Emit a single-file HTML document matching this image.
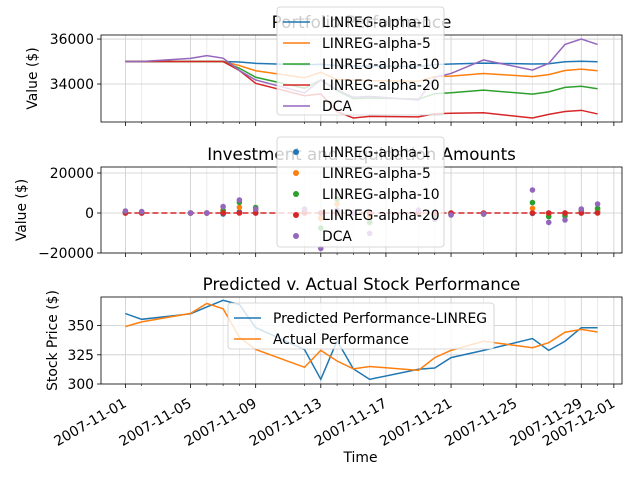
<!DOCTYPE html>
<html><head><meta charset="utf-8"><style>
body{margin:0;background:#fff}
svg{display:block;font-family:"DejaVu Sans","Liberation Sans",sans-serif}
</style></head><body>
<svg id="c" width="640" height="480" xmlns="http://www.w3.org/2000/svg"></svg>
<script>
const days=[0,1,4,5,6,7,8,11,12,13,14,15,18,19,20,22,25,26,27,28,29];
const tickDays=[0,4,8,12,16,20,24,28,30];
const tickLabels=["2007-11-01","2007-11-05","2007-11-09","2007-11-13","2007-11-17","2007-11-21","2007-11-25","2007-11-29","2007-12-01"];
const pfNames=["LINREG-alpha-1","LINREG-alpha-5","LINREG-alpha-10","LINREG-alpha-20","DCA"];
const colors=["#1f77b4","#ff7f0e","#2ca02c","#d62728","#9467bd"];
const pfA1=[35000,35000,35000,35000,35000,34980,34920,34850,34880,34820,34800,34800,34780,34860,34890,34930,34890,34900,34990,35010,34990];
const pfA5=[35000,35000,35000,35000,35000,34820,34590,34280,34520,34200,34180,34150,34120,34330,34350,34470,34330,34420,34600,34660,34590];
const pfA10=[35000,35000,35000,35000,35000,34700,34300,33810,34180,33700,33350,33380,33330,33570,33610,33730,33550,33650,33850,33900,33790];
const pfA20=[35000,35000,35000,35000,35000,34600,34030,33480,33560,32770,32490,32560,32540,32680,32700,32720,32490,32650,32780,32830,32670];
const pfDCA=[35000,35000,35140,35260,35150,34600,34180,33610,34180,33750,33410,33450,33290,34300,34470,35070,34620,34920,35760,36000,35760];
const invA1=[0,0,0,0,-500,500,0,300,0,0,0,0,0,0,0,-300,-200,0,0,0,500];
const invA5=[500,300,0,0,1500,2800,1500,1000,-2700,4500,0,-1500,0,-1000,-500,-500,2300,-500,-500,1000,1500];
const invA10=[300,200,0,0,1000,5300,2700,1500,-7500,7000,0,-4700,500,-1500,-800,-500,5200,-1800,-1500,1500,2300];
const invA20=[0,0,0,0,0,0,0,0,0,0,0,0,0,0,0,0,0,0,0,0,0];
const invDCA=[1000,700,0,0,3200,6500,2000,2000,-17700,1500,0,-10200,1500,-3200,-1000,-500,11500,-4700,-3500,2000,4500];
const predicted=[360.3,355.4,360.1,366,371.7,368,348.3,329.5,304,337,313,304,312.6,313.7,322.6,328.8,338.9,328.8,336.6,348.2,348.2];
const actual=[349.2,353.2,360.5,369,364.4,340,329.6,314.3,328.8,319.7,313,315,311.7,322.6,328.8,336.6,331.1,335.4,344.3,346.8,344.5];

const svg=document.getElementById('c');
const NS="http://www.w3.org/2000/svg";
function mk(tag,attrs,parent){const e=document.createElementNS(NS,tag);for(const k in attrs)e.setAttribute(k,attrs[k]);(parent||svg).appendChild(e);return e;}
const L=101,R=622;
const xs=d=>L+(d+1.5)*(R-L)/32;

function axes(name,top,bot,ymin,ymax,ticks,tlabels,ylabel,title,showX){
  const g=mk('g',{});
  
  
  const ys=v=>bot-(v-ymin)/(ymax-ymin)*(bot-top);
  days.forEach(d=>{if(!tickDays.includes(d)){const l=mk('line',{x1:xs(d),x2:xs(d),y1:top,y2:bot,stroke:'#e6e6e6','stroke-width':0.8},g);
    mk('line',{x1:xs(d),x2:xs(d),y1:bot,y2:bot+2,stroke:'#000','stroke-width':0.6},g);}});
  tickDays.forEach((d,i)=>{const l=mk('line',{x1:xs(d),x2:xs(d),y1:top,y2:bot,stroke:'#cccccc','stroke-width':0.8},g);
    mk('line',{x1:xs(d),x2:xs(d),y1:bot,y2:bot+4,stroke:'#000','stroke-width':0.8},g);
    if(showX){const tx=xs(d)+2,ty=bot+22;const t=mk('text',{x:tx,y:ty,'font-size':13.9,'text-anchor':'end',transform:`rotate(-30 ${tx} ${ty})`},g);t.textContent=tickLabels[i];}
  });
  ticks.forEach((v,i)=>{const y=ys(v);const l=mk('line',{x1:L,x2:R,y1:y,y2:y,stroke:'#cccccc','stroke-width':0.8},g);
    mk('line',{x1:L-4,x2:L,y1:y,y2:y,stroke:'#000','stroke-width':0.8},g);
    const t=mk('text',{x:L-7,y:y+5,'font-size':13.9,'text-anchor':'end'},g);t.textContent=tlabels[i];});
  const yl=mk('text',{x:0,y:0,'font-size':13.9,'text-anchor':'middle',transform:`translate(${ylabel[1]} ${(top+bot)/2}) rotate(-90)`},g);yl.textContent=ylabel[0];
  
  const tt=mk('text',{x:(L+R)/2,y:top-7,'font-size':16.7,'text-anchor':'middle'},g);tt.textContent=title;
  
  return {g,ys,top,bot};
}
function frame(a){const r=mk('rect',{x:L,y:a.top,width:R-L,height:a.bot-a.top,fill:'none',stroke:'#000','stroke-width':0.8});}
function line(a,vals,col,name){const p=mk('polyline',{points:days.map((d,i)=>xs(d)+','+a.ys(vals[i])).join(' '),fill:'none',stroke:col,'stroke-width':1.5});}
function legend(x,y,w,h,items,kind,name){
  const g=mk('g',{});
  mk('rect',{x,y,width:w,height:h,rx:3,fill:'#fff','fill-opacity':0.8,stroke:'#ccc','stroke-width':0.8},g);
  items.forEach((it,i)=>{const cy=y+15+i*21;
    if(kind==='line')mk('line',{x1:x+6,x2:x+33,y1:cy,y2:cy,stroke:it[1],'stroke-width':1.5},g);
    else mk('circle',{cx:x+19,cy,r:3,fill:it[1]},g);
    const t=mk('text',{x:x+45,y:cy+5,'font-size':13.9},g);t.textContent=it[0];
    });
}

const a1=axes('portfolio-axes',35,122,32311,36180,[34000,36000],["34000","36000"],["Value ($)",37],"Portfolio Performance",false);
[pfA1,pfA5,pfA10,pfA20,pfDCA].forEach((s,i)=>line(a1,s,colors[i],'portfolio-line-'+i));
frame(a1);
legend(277,7,167,108,pfNames.map((n,i)=>[n,colors[i]]),'line','portfolio-legend');

const a2=axes('investment-axes',167,253,-20000,23000,[-20000,0,20000],["−20000","0","20000"],["Value ($)",26],"Investment and Liquidation Amounts",false);
const zy=a2.ys(0);
const zl=mk('line',{x1:xs(0),x2:xs(29),y1:zy,y2:zy,stroke:'#d62728','stroke-width':1.5,'stroke-dasharray':'6,3'});

[invA1,invA5,invA10,invA20,invDCA].forEach((s,k)=>{days.forEach((d,i)=>{const c=mk('circle',{cx:xs(d),cy:a2.ys(s[i]),r:2.8,fill:colors[k]});});});
frame(a2);
legend(277,137,167,110,pfNames.map((n,i)=>[n,colors[i]]),'dot','investment-legend');

const a3=axes('stock-axes',297,384,300,374.5,[300,325,350],["300","325","350"],["Stock Price ($)",57],"Predicted v. Actual Stock Performance",true);
line(a3,predicted,colors[0],'predicted-line');
line(a3,actual,colors[1],'actual-line');
frame(a3);
legend(228,303,266,46,[["Predicted Performance-LINREG",colors[0]],["Actual Performance",colors[1]]],'line','stock-legend');
const xl=mk('text',{x:(L+R)/2-1,y:462,'font-size':13.9,'text-anchor':'middle'});xl.textContent='Time';

</script>
</body></html>
